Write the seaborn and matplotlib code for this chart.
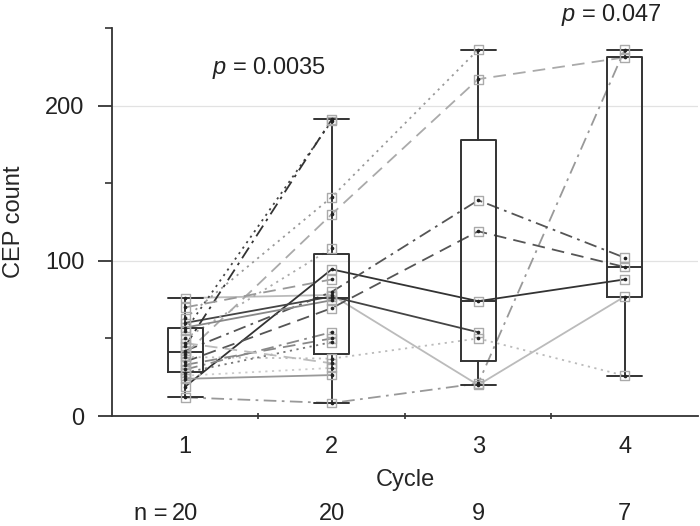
import numpy as np
import pandas as pd
import matplotlib.pyplot as plt
import seaborn as sns

cycles = [1, 2, 3, 4]
n_labels = ["20", "20", "9", "7"]
patients = list("ABCDEFGHIJKLMNOPQRST")

# CEP count per patient, one list per cycle (nan = no sample)
cycle1 = [12, 76, 19, 60, 42, 35, 38, 63, 40, 55, 45, 50, 30, 33, 28, 24, 26, 47, 57, 70]
cycle2 = [8.4, 78, 94.5, 77, 80, 69.5, 37, 141, 130, 190, 191, 108, 54, 50, 47.6, 26.4, 31, 34, 74.6, 88]
cycle3 = [21, 20, 74, 54, 139, 119, 50, 236, 217] + [np.nan] * 11
cycle4 = [236, 77, 88, np.nan, 102, 96, 26, np.nan, 231] + [np.nan] * 11

line_colors = ["#999999", "#bbbbbb", "#333333", "#444444", "#555555", "#555555", "#bbbbbb",
               "#999999", "#aaaaaa", "#444444", "#333333", "#aaaaaa", "#888888", "#888888",
               "#777777", "#999999", "#cccccc", "#bbbbbb", "#888888", "#999999"]
line_kinds = ["dashdot", "solid", "solid", "solid", "dashdot", "dashed", "dotted",
              "dotted", "dashed", "dotted", "dashdot", "dotted", "dashdot", "dashed",
              "dotted", "solid", "dotted", "dashed", "solid", "dashed"]

p_texts = ["$p$ = 0.0035", "$p$ = 0.047"]

dash_map = {"solid": "", "dashed": (7, 4), "dotted": (1.2, 2.5), "dashdot": (7, 3, 1.5, 3)}

rows = []
for i, p in enumerate(patients):
    for c, vals in zip(cycles, [cycle1, cycle2, cycle3, cycle4]):
        if not np.isnan(vals[i]):
            rows.append({"patient": p, "cycle": c, "cep": vals[i]})
df = pd.DataFrame(rows)

sns.set_style("ticks")
plt.rcParams["font.family"] = ["Liberation Sans", "DejaVu Sans"]
plt.rcParams["text.color"] = "#222222"
plt.rcParams["mathtext.fontset"] = "custom"
plt.rcParams["mathtext.it"] = "Liberation Sans:italic"

fig = plt.figure(figsize=(7, 5.26), dpi=100)
ax = fig.add_axes([0.16, 0.209, 0.837, 0.738])

ax.set_xlim(0.5, 4.5)
ax.set_ylim(0, 250)
ax.grid(axis="y", color="#e2e2e2", lw=0.9, zorder=0)
ax.set_axisbelow(True)

sns.lineplot(data=df, x="cycle", y="cep", hue="patient", style="patient",
             palette=dict(zip(patients, line_colors)),
             dashes={p: dash_map[k] for p, k in zip(patients, line_kinds)},
             estimator=None, sort=True, lw=1.3, legend=False, ax=ax, zorder=2)

# boxes: full range whiskers, quartiles on the (n+1)p rule
stats = []
for c in cycles:
    v = df.loc[df.cycle == c, "cep"].to_numpy()
    q1, med, q3 = np.percentile(v, [25, 50, 75], method="weibull")
    stats.append({"med": med, "q1": q1, "q3": q3, "whislo": v.min(), "whishi": v.max(), "fliers": []})
lp = dict(color="#333333", lw=1.4)
ax.bxp(stats, positions=cycles, widths=0.24, capwidths=0.24, showfliers=False,
       boxprops=lp, whiskerprops=lp, capprops=lp, medianprops=lp, manage_ticks=False,
       zorder=3)

sns.scatterplot(data=df, x="cycle", y="cep", marker="s", s=40, facecolor="none",
                edgecolor="#aaaaaa", linewidth=1.0, ax=ax, zorder=4, legend=False)
sns.scatterplot(data=df, x="cycle", y="cep", marker="o", s=7, color="#222222",
                linewidth=0, ax=ax, zorder=5, legend=False)

sns.despine(ax=ax)
for s in ["left", "bottom"]:
    ax.spines[s].set_color("#333333")
    ax.spines[s].set_linewidth(1.3)

ax.set_xticks(cycles)
ax.set_xticklabels([str(c) for c in cycles])
ax.set_xticks([1.5, 2.5, 3.5], minor=True)
ax.tick_params(axis="x", which="major", length=0, pad=14, labelsize=17, colors="#222222")
ax.tick_params(axis="x", which="minor", length=4, width=1.2, direction="inout", color="#333333")
ax.set_yticks([0, 100, 200])
ax.set_yticks([50, 150, 250], minor=True)
ax.tick_params(axis="y", which="major", length=10, width=1.2, pad=10, labelsize=17,
               colors="#222222")
ax.tick_params(axis="y", which="minor", length=5, width=1.2, color="#333333")

ax.set_xlabel("Cycle", fontsize=17, labelpad=8)
ax.set_ylabel("CEP count", fontsize=17, labelpad=14)

ax.text(1.57, 224, p_texts[0], fontsize=17, ha="center", va="center")
ax.text(3.91, 258, p_texts[1], fontsize=17, ha="center", va="center", clip_on=False)

tr = ax.get_xaxis_transform()
for c, n in zip(cycles, n_labels):
    ax.text(c, -0.253, n, transform=tr, fontsize=17, ha="center", va="center")
ax.text(0.88, -0.253, "n =", transform=tr, fontsize=17, ha="right", va="center")

fig.savefig("out.png", dpi=100)
